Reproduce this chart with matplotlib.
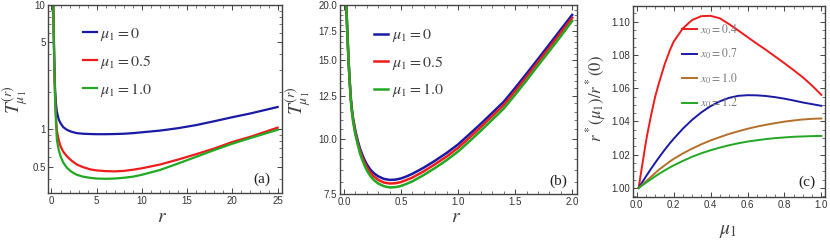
import numpy as np
import matplotlib
matplotlib.use("Agg")
import matplotlib.pyplot as plt
from matplotlib.ticker import FixedLocator, MultipleLocator, FuncFormatter, NullFormatter, LogLocator

# ---- data ----
# panel (a): T vs r, log y
r_a = [0.2, 0.25, 0.3, 0.35, 0.4, 0.5, 0.6, 0.8, 1.0, 1.3, 1.7, 2.2, 2.8, 3.5, 4.3, 5, 6, 7, 8, 9,
       10, 12, 14, 16, 18, 20, 22, 25]
T_a_mu0 = [10, 6.2, 4.0, 2.8, 2.1, 1.6, 1.38, 1.2, 1.12, 1.04, 0.99, 0.955, 0.93, 0.92, 0.915, 0.912,
           0.912, 0.915, 0.92, 0.93, 0.945, 0.975, 1.02, 1.08, 1.16, 1.25, 1.34, 1.51]
T_a_mu05 = [10, 6.0, 3.7, 2.5, 1.85, 1.25, 0.97, 0.82, 0.73, 0.66, 0.606, 0.56, 0.52, 0.495, 0.475, 0.466,
            0.46, 0.458, 0.462, 0.472, 0.485, 0.52, 0.57, 0.63, 0.70, 0.79, 0.87, 1.03]
T_a_mu1 = [10, 5.9, 3.6, 2.4, 1.75, 1.12, 0.82, 0.68, 0.606, 0.54, 0.49, 0.455, 0.43, 0.415, 0.406, 0.401,
           0.399, 0.401, 0.407, 0.415, 0.43, 0.47, 0.53, 0.60, 0.68, 0.765, 0.85, 0.99]

# panel (b): zoom on small r
r_b = [0.02, 0.03, 0.04, 0.05, 0.06, 0.07, 0.08, 0.1, 0.12, 0.14, 0.16, 0.18, 0.2, 0.23, 0.26, 0.3,
       0.35, 0.4, 0.45, 0.5, 0.55, 0.6, 0.7, 0.8, 0.9, 1.0, 1.1, 1.2, 1.3, 1.4, 1.5, 1.6, 1.7, 1.8, 1.9, 2.0]
T_b_mu0 = [20, 17.2, 15.0, 13.5, 12.3, 11.6, 11.1, 10.4, 9.9, 9.5, 9.2, 8.95, 8.75, 8.52, 8.36, 8.22,
           8.11, 8.07, 8.08, 8.13, 8.22, 8.33, 8.6, 8.92, 9.28, 9.7, 10.23, 10.8, 11.43, 12.1, 13.0,
           14.0, 15.1, 16.3, 17.6, 19.0]
T_b_mu05 = [20, 17.2, 15.0, 13.45, 12.25, 11.5, 11.0, 10.3, 9.8, 9.38, 9.08, 8.83, 8.62, 8.39, 8.22, 8.07,
            7.96, 7.92, 7.93, 7.98, 8.07, 8.17, 8.44, 8.76, 9.11, 9.53, 10.05, 10.62, 11.24, 11.9, 12.78,
            13.77, 14.86, 16.03, 17.32, 18.7]
T_b_mu1 = [20, 17.1, 14.9, 13.4, 12.2, 11.45, 10.9, 10.2, 9.7, 9.27, 8.95, 8.7, 8.48, 8.24, 8.07, 7.92,
           7.81, 7.76, 7.77, 7.82, 7.91, 8.01, 8.28, 8.59, 8.94, 9.35, 9.86, 10.42, 11.03, 11.68, 12.55,
           13.52, 14.6, 15.75, 17.0, 18.4]
mu_labels = [r"$\mu_1 = 0$", r"$\mu_1 = 0.5$", r"$\mu_1 = 1.0$"]

# panel (c): r*(mu1)/r*(0)
mu_c = [0.01, 0.02, 0.03, 0.04, 0.05, 0.06, 0.08, 0.1, 0.12, 0.15, 0.18, 0.2, 0.25, 0.3, 0.35, 0.4,
        0.45, 0.5, 0.55, 0.6, 0.65, 0.7, 0.75, 0.8, 0.85, 0.9, 0.95, 1.0]
ratio_x04 = [1.0, 1.007, 1.014, 1.021, 1.028, 1.034, 1.045, 1.055, 1.063, 1.074, 1.083, 1.088, 1.096,
             1.101, 1.1033, 1.1035, 1.102, 1.0985, 1.0947, 1.0907, 1.0868, 1.083, 1.079, 1.075, 1.0708,
             1.0665, 1.0615, 1.056]
ratio_x07 = [1.0, 1.0018, 1.0035, 1.0053, 1.007, 1.0087, 1.012, 1.0152, 1.0183, 1.0228, 1.027, 1.0296,
             1.0357, 1.041, 1.0455, 1.0492, 1.0521, 1.0542, 1.0554, 1.0558, 1.0557, 1.0553, 1.0546,
             1.0537, 1.0526, 1.0514, 1.0504, 1.0494]
ratio_x10 = [1.0, 1.001, 1.002, 1.003, 1.004, 1.005, 1.007, 1.009, 1.011, 1.0135, 1.016, 1.0175, 1.0208,
             1.0237, 1.0263, 1.0286, 1.0306, 1.0325, 1.0341, 1.0356, 1.0369, 1.038, 1.039, 1.0399,
             1.0406, 1.0412, 1.0416, 1.0418]
ratio_x12 = [1.0, 1.0008, 1.0016, 1.0024, 1.0032, 1.004, 1.0055, 1.007, 1.0085, 1.0105, 1.0124, 1.0136,
             1.0163, 1.0188, 1.0209, 1.0227, 1.0243, 1.0257, 1.0269, 1.0279, 1.0287, 1.0294, 1.03,
             1.0304, 1.0308, 1.031, 1.0312, 1.0313]
x0_labels = [r"$x_0 = 0.4$", r"$x_0 = 0.7$", r"$x_0 = 1.0$", r"$x_0 = 1.2$"]

# ---- style ----
plt.rcParams["mathtext.fontset"] = "stix"
plt.rcParams["font.family"] = ["Liberation Sans", "DejaVu Sans"]
BLUE, RED, GREEN, BROWN = "#1a1aa6", "#ee1c1c", "#22a822", "#b4702a"
FRAME = "#444444"
TXT = "#404040"


def frame(ax):
    for s in ax.spines.values():
        s.set_color(FRAME)
        s.set_linewidth(1.0)
    ax.tick_params(which="both", direction="in", top=True, right=True, colors=FRAME,
                   labelsize=7, labelcolor="#333333", pad=2)
    ax.tick_params(which="major", length=3.5, width=0.7)
    ax.tick_params(which="minor", length=2, width=0.5)


W, H = 830, 244
fig = plt.figure(figsize=(W / 100, H / 100), dpi=100)


def axes_px(left, right, top, bottom):
    return fig.add_axes([left / W, 1 - bottom / H, (right - left) / W, (bottom - top) / H])


# ---- panel (a) ----
ax_a = axes_px(48.3, 281.7, 5, 193.3)
for T, c, lab in zip([T_a_mu0, T_a_mu05, T_a_mu1], [BLUE, RED, GREEN], mu_labels):
    ax_a.plot(r_a, T, color=c, lw=1.6, label=lab)
ax_a.set_yscale("log")
ax_a.set_xlim(-0.35, 25.45)
ax_a.set_ylim(0.305, 10)
ax_a.yaxis.set_major_locator(FixedLocator([0.5, 1, 5, 10]))
ax_a.yaxis.set_major_formatter(FuncFormatter(lambda v, p: "%g" % v))
ax_a.yaxis.set_minor_locator(LogLocator(subs=np.arange(2, 10)))
ax_a.yaxis.set_minor_formatter(NullFormatter())
ax_a.xaxis.set_major_locator(MultipleLocator(5))
ax_a.xaxis.set_minor_locator(MultipleLocator(1))
frame(ax_a)
ax_a.legend(loc="upper left", bbox_to_anchor=(0.147, 0.89), frameon=False, fontsize=11.5,
            borderpad=0, borderaxespad=0, handlelength=0.87, handletextpad=0.25,
            labelspacing=0.62, labelcolor=TXT)
ax_a.text(0.914, 0.074, "(a)", transform=ax_a.transAxes, ha="center", va="center",
          fontsize=11, family="Liberation Serif", color="#222222")

# ---- panel (b) ----
ax_b = axes_px(340, 576.7, 5, 194)
for T, c, lab in zip([T_b_mu0, T_b_mu05, T_b_mu1], [BLUE, RED, GREEN], mu_labels):
    ax_b.plot(r_b, T, color=c, lw=1.8, label=lab)
ax_b.set_yscale("log")
ax_b.set_xlim(-0.035, 2.04)
ax_b.set_ylim(7.5, 20)
ax_b.yaxis.set_major_locator(FixedLocator([7.5, 10, 12.5, 15, 17.5, 20]))
ax_b.yaxis.set_major_formatter(FuncFormatter(lambda v, p: "%.1f" % v))
ax_b.yaxis.set_minor_locator(FixedLocator(np.arange(7.5, 20.01, 0.5)))
ax_b.yaxis.set_minor_formatter(NullFormatter())
ax_b.xaxis.set_major_locator(MultipleLocator(0.5))
ax_b.xaxis.set_minor_locator(MultipleLocator(0.1))
ax_b.xaxis.set_major_formatter(FuncFormatter(lambda v, p: "%.1f" % v))
frame(ax_b)
ax_b.legend(loc="upper left", bbox_to_anchor=(0.145, 0.882), frameon=False, fontsize=11.5,
            borderpad=0, borderaxespad=0, handlelength=0.87, handletextpad=0.25,
            labelspacing=0.6, labelcolor=TXT)
ax_b.text(0.922, 0.065, "(b)", transform=ax_b.transAxes, ha="center", va="center",
          fontsize=11, family="Liberation Serif", color="#222222")

# ---- panel (c) ----
ax_c = axes_px(632.7, 824.7, 6, 197)
for y, c, lab in zip([ratio_x04, ratio_x07, ratio_x10, ratio_x12], [RED, BLUE, BROWN, GREEN], x0_labels):
    ax_c.plot(mu_c, y, color=c, lw=1.4, label=lab)
ax_c.set_xlim(-0.022, 1.018)
ax_c.set_ylim(0.9946, 1.1094)
ax_c.xaxis.set_major_locator(MultipleLocator(0.2))
ax_c.xaxis.set_minor_locator(MultipleLocator(0.05))
ax_c.xaxis.set_major_formatter(FuncFormatter(lambda v, p: "%.1f" % v))
ax_c.yaxis.set_major_locator(MultipleLocator(0.02))
ax_c.yaxis.set_minor_locator(MultipleLocator(0.005))
ax_c.yaxis.set_major_formatter(FuncFormatter(lambda v, p: "%.2f" % v))
frame(ax_c)
ax_c.legend(loc="upper left", bbox_to_anchor=(0.255, 0.915), frameon=False, fontsize=8.5,
            borderpad=0, borderaxespad=0, handlelength=1.27, handletextpad=0.28,
            labelspacing=0.85, labelcolor="#777777")
ax_c.text(0.906, 0.077, "(c)", transform=ax_c.transAxes, ha="center", va="center",
          fontsize=11, family="Liberation Serif", color="#222222")

# ---- axis titles ----
fig.text(15.5 / W, 1 - 100 / H, r"$T^{(r)}_{\mu_1}$", rotation=90, ha="center", va="center",
         fontsize=14, color=TXT)
fig.text(299 / W, 1 - 101 / H, r"$T^{(r)}_{\mu_1}$", rotation=90, ha="center", va="center",
         fontsize=14, color=TXT)
fig.text(595.5 / W, 1 - 98.5 / H, r"$r^*(\mu_1)/r^*(0)$", rotation=90, ha="center", va="center",
         fontsize=12, color=TXT)
fig.text(162 / W, 1 - 218 / H, r"$r$", ha="center", va="center", fontsize=14, color=TXT)
fig.text(456 / W, 1 - 218 / H, r"$r$", ha="center", va="center", fontsize=14, color=TXT)
fig.text(728 / W, 1 - 231 / H, r"$\mu_1$", ha="center", va="center", fontsize=14, color=TXT)

fig.savefig("out.png", dpi=100)
